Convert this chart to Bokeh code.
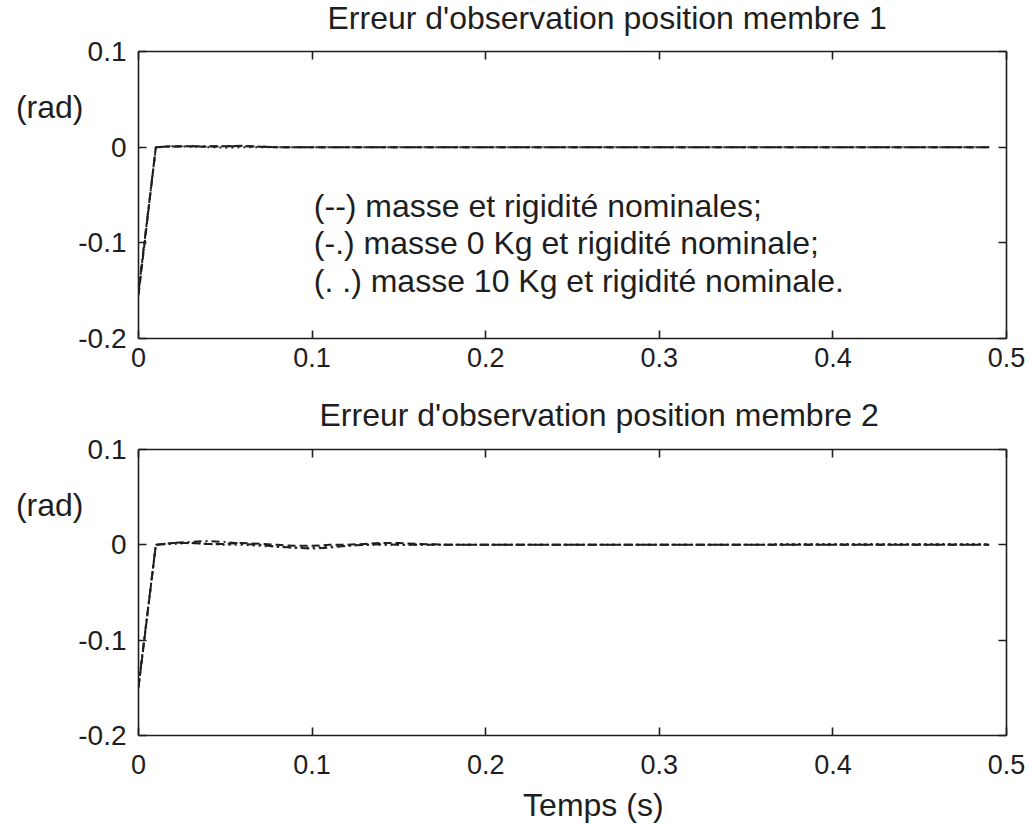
from bokeh.plotting import figure
from bokeh.layouts import column
from bokeh.models import Range1d, LinearAxis, FixedTicker, Title, ColumnDataSource
from bokeh.core.properties import value
from bokeh.embed import file_html
from bokeh.resources import INLINE

FONT = "Liberation Sans"
INK = "#1e1e1e"

# ---------------- data ----------------
t = [0.00, 0.01, 0.02, 0.03, 0.04, 0.05, 0.06, 0.07, 0.08, 0.09,
     0.10, 0.11, 0.12, 0.13, 0.14, 0.15, 0.16, 0.17, 0.18, 0.19,
     0.20, 0.21, 0.22, 0.23, 0.24, 0.25, 0.26, 0.27, 0.28, 0.29,
     0.30, 0.31, 0.32, 0.33, 0.34, 0.35, 0.36, 0.37, 0.38, 0.39,
     0.40, 0.41, 0.42, 0.43, 0.44, 0.45, 0.46, 0.47, 0.48, 0.49]

# membre 1
m1_nominal = [-0.155, 0.0, 0.001, 0.001, 0.0005, 0.001, 0.0015, 0.0005, 0.0, 0.0,
              0.0, 0.0, 0.0, 0.0, 0.0, 0.0, 0.0, 0.0, 0.0, 0.0,
              0.0, 0.0, 0.0, 0.0, 0.0, 0.0, 0.0, 0.0, 0.0, 0.0,
              0.0, 0.0, 0.0, 0.0, 0.0, 0.0, 0.0, 0.0, 0.0, 0.0,
              0.0, 0.0, 0.0, 0.0, 0.0, 0.0, 0.0, 0.0, 0.0, 0.0]
m1_masse0 = [-0.150, 0.0, 0.0005, 0.001, 0.001, 0.001, 0.001, 0.0005, 0.0, 0.0,
             0.0, 0.0, 0.0, 0.0, 0.0, 0.0, 0.0, 0.0, 0.0, 0.0,
             0.0, 0.0, 0.0, 0.0, 0.0, 0.0, 0.0, 0.0, 0.0, 0.0,
             0.0, 0.0, 0.0, 0.0, 0.0, 0.0, 0.0, 0.0, 0.0, 0.0,
             0.0, 0.0, 0.0, 0.0, 0.0, 0.0, 0.0, 0.0, 0.0, 0.0]
m1_masse10 = [-0.152, 0.0, 0.001, 0.0005, 0.0, -0.0005, 0.0, 0.0, 0.0, 0.0,
              0.0, 0.0, 0.0, 0.0, 0.0, 0.0, 0.0, 0.0, 0.0, 0.0,
              0.0, 0.0, 0.0, 0.0, 0.0, 0.0, 0.0, 0.0, 0.0, 0.0,
              0.0, 0.0, 0.0, 0.0, 0.0, 0.0, 0.0, 0.0, 0.0, 0.0,
              0.0, 0.0, 0.0, 0.0, 0.0, 0.0, 0.0, 0.0, 0.0, 0.0]

# membre 2
m2_nominal = [-0.150, 0.0, 0.002, 0.002, 0.001, 0.001, 0.002, 0.001, 0.0, -0.001,
              -0.001, 0.0, 0.0, 0.001, 0.002, 0.002, 0.001, 0.0005, 0.0, 0.0,
              0.0, 0.0, 0.0, 0.0, 0.0, 0.0, 0.0, 0.0, 0.0, 0.0,
              0.0, 0.0, 0.0, 0.0, 0.0, 0.0, 0.0, 0.0, 0.0, 0.0,
              0.0, 0.0, 0.0, 0.0, 0.0, 0.0, 0.0, 0.0, 0.0, 0.0]
m2_masse0 = [-0.148, 0.0, 0.002, 0.003, 0.004, 0.003, 0.001, 0.0, -0.002, -0.003,
             -0.004, -0.003, -0.001, 0.0, 0.0005, 0.0, 0.0, 0.0, 0.0, 0.0,
             0.0, 0.0, 0.0, 0.0, 0.0, 0.0, 0.0, 0.0, 0.0, 0.0,
             0.0, 0.0, 0.0, 0.0, 0.0, 0.0, 0.0, 0.0, 0.0, 0.0,
             0.0, 0.0, 0.0, 0.0, 0.0, 0.0, 0.0, 0.0, 0.0, 0.0]
m2_masse10 = [-0.149, 0.0, 0.001, 0.002, 0.001, 0.0, 0.0, -0.001, -0.002, -0.003,
              -0.003, -0.002, -0.001, 0.0, 0.0, 0.0, 0.0, 0.0, 0.0, 0.0,
              0.0, 0.0, 0.0, 0.0, 0.0, 0.0, 0.0, 0.0, 0.0, 0.0,
              0.0, 0.0, 0.0, 0.0, 0.0, 0.0, 0.0, 0.001, 0.001, 0.001,
              0.001, 0.001, 0.001, 0.001, 0.001, 0.001, 0.001, 0.001, 0.001, 0.001]

x_ticks = [0.0, 0.1, 0.2, 0.3, 0.4, 0.5]
x_tick_labels = ["0", "0.1", "0.2", "0.3", "0.4", "0.5"]
y_ticks = [-0.2, -0.1, 0.0, 0.1]
y_tick_labels = ["-0.2", "-0.1", "0", "0.1"]

titles = ["Erreur d'observation position membre 1",
          "Erreur d'observation position membre 2"]
y_unit_label = "(rad)"
y_unit_at = 0.042          # height (rad) at which the unit label sits
x_axis_label = "Temps (s)"
x_label_at = 0.262          # time at which the x label is centred

legend_lines = ["(--)  masse et rigidité nominales;",
                "(-.)  masse 0 Kg et rigidité nominale;",
                "(. .) masse 10 Kg et rigidité nominale."]
legend_x = [0.101, 0.101, 0.101]
legend_y = [-0.062, -0.100, -0.140]


def style_axis(ax, ticks, labels, show_labels, standoff=6, size="27px"):
    ax.ticker = FixedTicker(ticks=ticks, minor_ticks=[])
    ax.major_label_overrides = {tk: lb for tk, lb in zip(ticks, labels)}
    ax.major_tick_in = 8
    ax.major_tick_out = 0
    ax.minor_tick_in = 0
    ax.minor_tick_out = 0
    ax.axis_line_color = INK
    ax.axis_line_width = 1.6
    ax.major_tick_line_color = INK
    ax.major_tick_line_width = 1.6
    ax.major_label_standoff = standoff
    ax.major_label_text_font = FONT
    if show_labels:
        ax.major_label_text_font_size = size
        ax.major_label_text_color = INK
    else:
        ax.major_label_text_font_size = "0px"
        ax.major_label_text_color = None


def text_axis(ax, pos, text, standoff):
    # an axis with no line and no ticks that carries a single text
    ax.ticker = FixedTicker(ticks=[pos], minor_ticks=[])
    ax.major_label_overrides = {pos: text}
    ax.axis_line_color = None
    ax.major_tick_line_color = None
    ax.minor_tick_line_color = None
    ax.major_tick_in = 0
    ax.major_tick_out = 0
    ax.major_label_standoff = standoff
    ax.major_label_text_font = FONT
    ax.major_label_text_font_size = "32px"
    ax.major_label_text_color = INK


def make_panel(title_text, series, height, top, bottom, title_offset, title_standoff,
               xlab_standoff, margin):
    p = figure(width=1031, height=height, output_backend="svg", toolbar_location=None,
               x_range=Range1d(0, 0.5), y_range=Range1d(-0.2, 0.1),
               min_border_left=138, min_border_right=25,
               min_border_top=top, min_border_bottom=bottom,
               background_fill_color="white", border_fill_color="white",
               margin=margin)
    p.outline_line_color = None
    p.xgrid.visible = False
    p.ygrid.visible = False
    p.title = Title(text=title_text, text_font=FONT, text_font_size="32px",
                    text_font_style="normal", text_color=INK, align="left",
                    offset=title_offset, standoff=title_standoff)

    style_axis(p.xaxis[0], x_ticks, x_tick_labels, True, standoff=xlab_standoff, size="27px")
    style_axis(p.yaxis[0], y_ticks, y_tick_labels, True, standoff=12, size="28px")
    ax_top = LinearAxis()
    style_axis(ax_top, x_ticks, x_tick_labels, False, standoff=0)
    p.add_layout(ax_top, "above")
    ax_right = LinearAxis()
    style_axis(ax_right, y_ticks, y_tick_labels, False, standoff=0)
    p.add_layout(ax_right, "right")

    ax_unit = LinearAxis()
    text_axis(ax_unit, y_unit_at, y_unit_label, -8)
    p.add_layout(ax_unit, "left")

    dashes = ["8 4", "8 4 2 4", "2 4"]
    for ys, dash in zip(series, dashes):
        p.line(t, ys, line_color=INK, line_width=2.0, line_dash=dash)
    return p


# top panel: canvas starts 20 px above the page so the title can sit high
p1 = make_panel(titles[0], [m1_nominal, m1_masse0, m1_masse10],
                height=20 + 51 + 287 + 40, top=71, bottom=40,
                title_offset=189, title_standoff=32, xlab_standoff=9,
                margin=(-20, 0, 0, 0))
src = ColumnDataSource(dict(x=legend_x, y=legend_y, text=legend_lines))
p1.text(x="x", y="y", text="text", source=src, text_font=value(FONT),
        text_font_size="32px", text_color=INK, text_align="left", text_baseline="middle")

p2 = make_panel(titles[1], [m2_nominal, m2_masse0, m2_masse10],
                height=71 + 288 + 88, top=71, bottom=88,
                title_offset=181, title_standoff=33, xlab_standoff=19,
                margin=(0, 0, 0, 0))
ax_time = LinearAxis()
text_axis(ax_time, x_label_at, x_axis_label, 10)
p2.add_layout(ax_time, "below")

layout = column(p1, p2, spacing=0)
open("out.html", "w").write(file_html(layout, INLINE))
